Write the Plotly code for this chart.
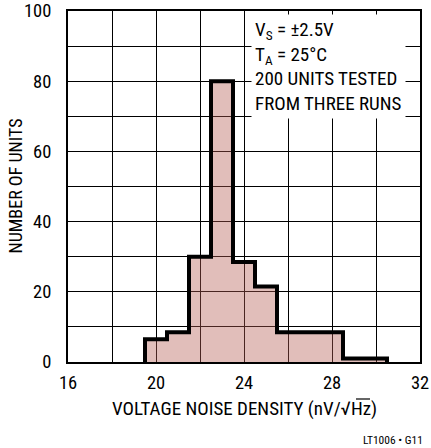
import plotly.graph_objects as go

# Histogram data (bin centers in nV/sqrtHz, counts)
bin_centers = [20, 21, 22, 23, 24, 25, 26, 27, 28, 29, 30]
counts = [6.5, 8.5, 30, 80, 28.5, 21.5, 8.5, 8.5, 8.5, 1, 1]
bin_width = 1

x_ticks = [16, 20, 24, 28, 32]
x_labels = ["16", "20", "24", "28", "32"]
y_ticks = [0, 20, 40, 60, 80, 100]
y_labels = ["0", "20", "40", "60", "80", "100"]

FONT = "Roboto Condensed, Liberation Sans Narrow, Arial Narrow, Liberation Sans, Arial, sans-serif"

# step outline built from the bin edges
edges = [c - bin_width / 2 for c in bin_centers] + [bin_centers[-1] + bin_width / 2]
step_x = [edges[0]] + edges + [edges[-1]]
step_y = [0] + counts + [counts[-1], 0]

fig = go.Figure()
fig.add_trace(go.Bar(
    x=bin_centers, y=counts, width=bin_width,
    marker=dict(color="rgba(180,93,83,0.4)", line=dict(width=0)),
    hoverinfo="skip",
))
fig.add_trace(go.Scatter(
    x=step_x, y=step_y, mode="lines",
    line=dict(color="black", width=4, shape="hv"),
    hoverinfo="skip",
))

fig.update_layout(
    width=431, height=448,
    margin=dict(l=68, r=11, t=11, b=86),
    paper_bgcolor="white", plot_bgcolor="white",
    showlegend=False, bargap=0,
    font=dict(family=FONT, size=18, color="black"),
    xaxis=dict(
        range=[16, 32], tickmode="array", tickvals=x_ticks, ticktext=x_labels,
        showgrid=True, gridcolor="black", gridwidth=1,
        minor=dict(tick0=16, dtick=2, showgrid=True, gridcolor="black", gridwidth=1, ticks=""),
        showline=True, mirror=True, linecolor="black", linewidth=2,
        ticks="", zeroline=False, ticklabelstandoff=3, automargin=False,
        tickfont=dict(size=18.5),
    ),
    yaxis=dict(
        range=[0, 100], tickmode="array", tickvals=y_ticks, ticktext=y_labels,
        showgrid=True, gridcolor="black", gridwidth=1,
        minor=dict(tick0=0, dtick=10, showgrid=True, gridcolor="black", gridwidth=1, ticks=""),
        showline=True, mirror=True, linecolor="black", linewidth=2,
        ticks="", zeroline=False, ticklabelstandoff=11, automargin=False,
        tickfont=dict(size=18.5),
    ),
    annotations=[
        dict(text="V<sub>S</sub> = ±2.5V<br>T<sub>A</sub> = 25°C<br>200 UNITS TESTED<br>FROM THREE RUNS",
             xref="paper", yref="paper", x=0.52, y=0.992, xanchor="left", yanchor="top",
             align="left", showarrow=False, bgcolor="white", borderpad=3,
             font=dict(size=19, family=FONT)),
        dict(text="NUMBER OF UNITS", textangle=-90, xref="paper", yref="paper",
             x=(15 - 68) / 352, y=0.5, xanchor="center", yanchor="middle", showarrow=False,
             font=dict(size=18, family=FONT)),
        dict(text="VOLTAGE NOISE DENSITY (nV/√Hz)", xref="paper", yref="paper",
             x=0.5, y=(362 - 408) / 351, xanchor="center", yanchor="middle", showarrow=False,
             font=dict(size=19, family=FONT)),
        dict(text="LT1006 • G11", xref="paper", yref="paper", x=(425 - 68) / 352,
             y=(362 - 440) / 351, xanchor="right", yanchor="middle", showarrow=False,
             font=dict(size=11.5, family=FONT)),
    ],
    shapes=[
        dict(type="line", xref="paper", yref="paper",
             x0=(356 - 68) / 352, x1=(370 - 68) / 352,
             y0=(362 - 399) / 351, y1=(362 - 399) / 351,
             line=dict(color="black", width=1.2)),
    ],
)

fig.write_html("out.html", config={"displayModeBar": False},
               post_script="document.body.style.margin='0';")
